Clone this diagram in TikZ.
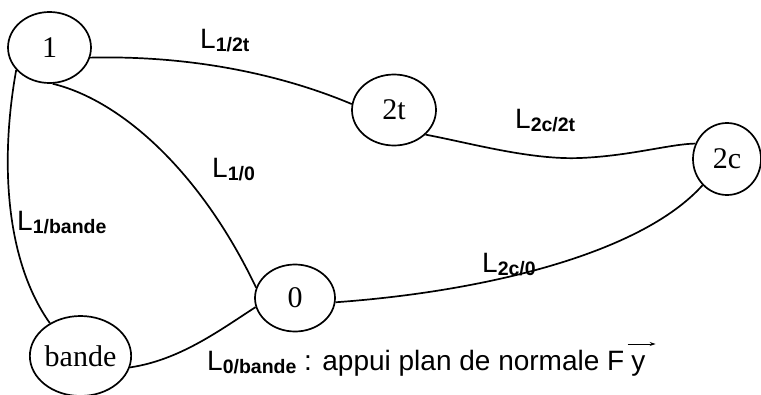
\documentclass[tikz,border=0pt]{standalone}
\usepackage{fontspec}
\setmainfont{Liberation Serif}
\newfontfamily\arial{Liberation Sans}
\usetikzlibrary{shapes.geometric,calc,arrows.meta}
\newcommand{\Lab}[1]{{\arial\fontsize{28}{30}\selectfont L\raisebox{-3pt}{\fontsize{19.5}{21}\selectfont\bfseries #1}}}
\begin{document}
\begin{tikzpicture}[x=1pt,y=-1pt,
  nd/.style={draw,ellipse,line width=1.7pt,inner sep=0pt,font=\fontsize{30}{32}\selectfont},
  ln/.style={line width=1.7pt},
  lab/.style={inner sep=0pt,anchor=base west}]
\useasboundingbox (0,0) rectangle (761,394);
\node[nd,minimum width=83pt,minimum height=71pt] (n1) at (49.5,47.5) {1};
\node[nd,minimum width=84pt,minimum height=71pt] (n2t) at (394,110) {2t};
\node[nd,minimum width=68pt,minimum height=72pt] (n2c) at (727,159) {2c};
\node[nd,minimum width=80pt,minimum height=67pt] (n0) at (295,298) {0};
\node[nd,minimum width=95pt,minimum height=80pt] (nb) at (80.5,356) {bande};

\draw[ln] (n1.-14) .. controls (200,55) and (290,78) .. (n2t.172);
\draw[ln] (n2t.-38) .. controls (470,143) and (530,160) .. (580,158) .. controls (630,156) and (670,144) .. (n2c.154);
\draw[ln] (n2c.-133) .. controls (640,255) and (480,292) .. (n0.-6);
\draw[ln] (n1.-85) .. controls (120,100) and (200,170) .. (n0.165);
\draw[ln] (n1.-146) .. controls (0,160) and (5,260) .. (nb.133);
\draw[ln] (nb.-13) .. controls (180,360) and (220,330) .. (n0.193);

\node[lab] (l12t) at (200,48) {\Lab{1/2t}};
\node[lab] (l2c2t) at (515,128) {\Lab{2c/2t}};
\node[lab] (l10) at (212,177) {\Lab{1/0}};
\node[lab] (l1b) at (17,230) {\Lab{1/bande}};
\node[lab] (l2c0) at (482,272) {\Lab{2c/0}};
\node[lab] (l0b) at (207,370) {\Lab{0/bande}{\arial\fontsize{28}{30}\selectfont\ : appui plan de normale F\hspace{7pt}y}};
\coordinate (arrA) at ($(l0b.base east)+(-18,-26)$);
\coordinate (arrB) at ($(l0b.base east)+(10,-26)$);
\draw[line width=1pt,-{Stealth[length=6pt,width=4pt]}] (arrA) -- (arrB);
\end{tikzpicture}
\end{document}
